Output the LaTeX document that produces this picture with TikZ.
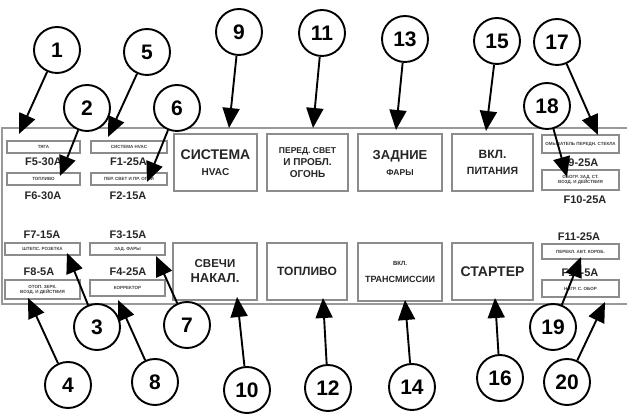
\documentclass[tikz,border=0pt]{standalone}
\usepackage{fontspec}
\setmainfont{Liberation Sans}
\usetikzlibrary{arrows.meta}
\begin{document}
\begin{tikzpicture}[x=1pt,y=-1pt,
  num/.style={circle,draw,line width=1.9pt,fill=white,minimum size=46pt,inner sep=0pt,font=\bfseries\fontsize{21}{21}\selectfont},
  bigbox/.style={draw=black!45,line width=1.6pt,fill=white,inner sep=0pt,align=center,text=black!85,font=\bfseries},
  smallbox/.style={draw=black!45,line width=1.2pt,fill=white,inner sep=0pt,align=center,text=black!75,font=\bfseries\fontsize{4.5}{5}\selectfont},
  fuse/.style={font=\bfseries\fontsize{11}{11}\selectfont,text=black!85,inner sep=0pt},
  arr/.style={line width=1.9pt,-{Triangle[length=20pt,width=17pt]}}
]
\useasboundingbox (0,0) rectangle (627,419);
% panel
\draw[black!40,line width=2.5pt] (627,128) -- (2,128) -- (2,304) -- (627,304);

% big boxes, top row
\node[bigbox,minimum width=83pt,minimum height=57pt] (b9) at (215.5,162.5)
  {{\fontsize{14}{14}\selectfont СИСТЕМА}\\[4pt]{\fontsize{10}{10}\selectfont HVAC}};
\node[bigbox,minimum width=81pt,minimum height=57pt] (b11) at (307.5,162.5)
  {\fontsize{8.5}{12}\selectfont ПЕРЕД. СВЕТ\\И ПРОБЛ.\\ОГОНЬ};
\node[bigbox,minimum width=84pt,minimum height=57pt] (b13) at (400,162.5)
  {{\fontsize{13}{13}\selectfont ЗАДНИЕ}\\[4pt]{\fontsize{8.5}{9}\selectfont ФАРЫ}};
\node[bigbox,minimum width=81pt,minimum height=57pt] (b15) at (492.5,162.5)
  {{\fontsize{12}{12}\selectfont ВКЛ.}\\[4pt]{\fontsize{10.5}{11}\selectfont ПИТАНИЯ}};
% big boxes, bottom row
\node[bigbox,minimum width=84pt,minimum height=57pt] (b10) at (215,271.5)
  {{\fontsize{11.5}{12}\selectfont СВЕЧИ}\\[3pt]{\fontsize{13}{13}\selectfont НАКАЛ.}};
\node[bigbox,minimum width=80pt,minimum height=57pt] (b12) at (307,271.5)
  {\fontsize{12}{12}\selectfont ТОПЛИВО};
\node[bigbox,minimum width=84pt,minimum height=58pt] (b14) at (400,272)
  {{\fontsize{6}{6}\selectfont ВКЛ.}\\[5pt]{\fontsize{9}{9}\selectfont ТРАНСМИССИИ}};
\node[bigbox,minimum width=81pt,minimum height=57pt] (b16) at (492.5,271.5)
  {\fontsize{14}{14}\selectfont СТАРТЕР};

% small boxes, left
\node[smallbox,minimum width=73pt,minimum height=12pt] (s1) at (43.5,147) {ТЯГА};
\node[smallbox,minimum width=73pt,minimum height=12pt] (s2) at (43.5,179) {ТОПЛИВО};
\node[smallbox,minimum width=76pt,minimum height=12pt] (s5) at (129,147) {СИСТЕМА HVAC};
\node[smallbox,minimum width=76pt,minimum height=12pt] (s6) at (129,179) {ПЕР. СВЕТ И ПР. ОГНИ};
\node[smallbox,minimum width=75pt,minimum height=12pt] (s3) at (42.5,249) {ШТЕПС. РОЗЕТКА};
\node[smallbox,minimum width=75pt,minimum height=19pt] (s4) at (42.5,289.5) {ОТОП. ЗЕРК.\\ВОЗД. И ДЕЙСТВИЯ};
\node[smallbox,minimum width=75pt,minimum height=12pt] (s7) at (127.5,249) {ЗАД. ФАРЫ};
\node[smallbox,minimum width=75pt,minimum height=16pt] (s8) at (127.5,288) {КОРРЕКТОР};
% small boxes, right
\node[smallbox,minimum width=77pt,minimum height=18pt] (s17) at (580.5,144) {ОМЫВАТЕЛЬ ПЕРЕДН. СТЕКЛА};
\node[smallbox,minimum width=77pt,minimum height=20pt] (s18) at (580.5,180) {ОБОГР. ЗАД. СТ.\\ВОЗД. И ДЕЙСТВИЯ};
\node[smallbox,minimum width=77pt,minimum height=15pt] (s19) at (580.5,251.5) {ПЕРЕКЛ. АВТ. КОРОБ.};
\node[smallbox,minimum width=77pt,minimum height=17pt] (s20) at (580.5,288.5) {НАГР. С. ОБОР};

% fuse labels
\node[fuse,anchor=west] (f5) at (25,162) {F5-30A};
\node[fuse] (f6) at (43,196) {F6-30A};
\node[fuse,anchor=west] (f1) at (110,162) {F1-25A};
\node[fuse] (f2) at (128,196) {F2-15A};
\node[fuse] (f7) at (42,235) {F7-15A};
\node[fuse] (f8) at (39,272) {F8-5A};
\node[fuse] (f3) at (128,235) {F3-15A};
\node[fuse] (f4) at (128,272) {F4-25A};
\node[fuse] (f9) at (580,163) {F9-25A};
\node[fuse] (f10) at (585,200) {F10-25A};
\node[fuse] (f11) at (579,237) {F11-25A};
\node[fuse] (f12) at (580,273) {F12-5A};

% arrow tips
\coordinate (t1) at (19,134);
\coordinate (t2) at (60,176);
\coordinate (t5) at (108,137);
\coordinate (t6) at (147,182);
\coordinate (t9) at (229,128);
\coordinate (t11) at (313,128);
\coordinate (t13) at (396,130);
\coordinate (t15) at (486,131);
\coordinate (t17) at (598,135);
\coordinate (t18) at (567,177);
\coordinate (t3) at (67,253);
\coordinate (t4) at (28,298);
\coordinate (t7) at (156,256);
\coordinate (t8) at (118,300);
\coordinate (t10) at (237,297);
\coordinate (t12) at (323,298);
\coordinate (t14) at (405,300);
\coordinate (t16) at (495,298);
\coordinate (t19) at (581,257);
\coordinate (t20) at (605,302);

% circles
\node[num] (c1) at (57,50) {1};
\node[num] (c2) at (87,108) {2};
\node[num] (c5) at (147,52) {5};
\node[num] (c6) at (177,108) {6};
\node[num] (c9) at (239,32) {9};
\node[num] (c11) at (322,33) {11};
\node[num] (c13) at (405,39) {13};
\node[num] (c15) at (497,41) {15};
\node[num] (c17) at (557,42) {17};
\node[num] (c18) at (547,106) {18};
\node[num] (c3) at (97,327) {3};
\node[num] (c4) at (68,385) {4};
\node[num] (c7) at (187,325) {7};
\node[num] (c8) at (155,382) {8};
\node[num] (c10) at (247,390) {10};
\node[num] (c12) at (328,388) {12};
\node[num] (c14) at (412,387) {14};
\node[num] (c16) at (500,378) {16};
\node[num] (c19) at (553,327) {19};
\node[num] (c20) at (567,382) {20};

% arrows
\foreach \i in {1,2,5,6,9,11,13,15,17,18,3,4,7,8,10,12,14,16,19,20}
  \draw[arr] (c\i) -- (t\i);
\end{tikzpicture}
\end{document}
